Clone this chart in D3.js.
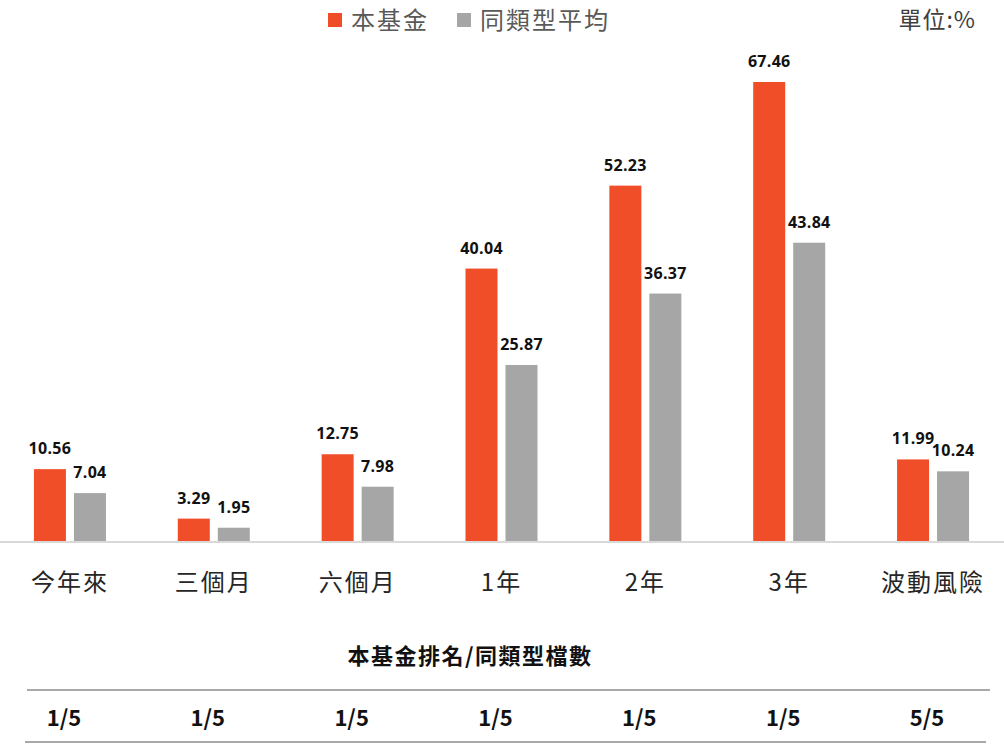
<!DOCTYPE html>
<html><head><meta charset="utf-8">
<script src="https://cdn.jsdelivr.net/npm/d3@7"></script>
<style>
html,body{margin:0;padding:0;background:#fff;}
svg{display:block;}
</style></head>
<body>
<svg id="chart" width="1004" height="746"></svg>
<script>
const categories = ["今年來","三個月","六個月","1年","2年","3年","波動風險"];
const fundValues = [10.56, 3.29, 12.75, 40.04, 52.23, 67.46, 11.99];
const peerValues = [7.04, 1.95, 7.98, 25.87, 36.37, 43.84, 10.24];
const ranks = ["1/5","1/5","1/5","1/5","1/5","1/5","5/5"];
const seriesNames = ["本基金","同類型平均"];
const colors = ["#f04e28","#a6a6a6"];

const svg = d3.select("#chart");
const cjk = "'Noto Sans CJK TC','Noto Sans CJK SC',sans-serif";
const num = "'Open Sans',sans-serif";

const x = d3.scaleBand().domain(categories).range([-2, 1005]).paddingInner(0).paddingOuter(0);
const y = d3.scaleLinear().domain([0, 80]).range([541, 541 - 80 * 6.804]);
const inner = d3.scaleBand().domain([0,1]).range([-36, 36]).paddingInner(0.2).paddingOuter(0);

const data = categories.map((c,i)=>({cat:c, vals:[fundValues[i], peerValues[i]], rank:ranks[i]}));

const g = svg.append("g");
const groups = g.selectAll("g.cat").data(data).join("g")
  .attr("transform", d => `translate(${x(d.cat) + x.bandwidth()/2},0)`);

groups.selectAll("rect").data(d => d.vals.map((v,k)=>({v,k}))).join("rect")
  .attr("x", d => inner(d.k))
  .attr("width", inner.bandwidth())
  .attr("y", d => y(d.v))
  .attr("height", d => y(0) - y(d.v))
  .attr("fill", d => colors[d.k]);

groups.selectAll("text.val").data(d => d.vals.map((v,k)=>({v,k}))).join("text")
  .attr("class","val")
  .attr("x", d => inner(d.k) + inner.bandwidth()/2)
  .attr("y", d => y(d.v) - 15)
  .attr("text-anchor","middle")
  .attr("font-family", num)
  .attr("font-weight","bold")
  .attr("font-size","16px")
  .attr("letter-spacing","0.3px")
  .attr("fill","#111")
  .text(d => d.v.toFixed(2));

// axis baseline
const xAxis = d3.axisBottom(x).tickSize(0).tickPadding(0);
const ax = svg.append("g").attr("transform", `translate(0,${y(0)})`).call(xAxis);
ax.select(".domain").attr("stroke","#d9d9d9").attr("stroke-width",2).attr("d","M0,1H1004");
ax.selectAll(".tick text")
  .attr("y", 33)
  .attr("font-family", cjk)
  .attr("font-size","24px")
  .attr("letter-spacing","2px")
  .attr("fill","#262626");

// legend
const legend = svg.append("g");
const legX = [328, 457];
seriesNames.forEach((n,k)=>{
  legend.append("rect").attr("x", legX[k]).attr("y", 13).attr("width", 14).attr("height", 14).attr("fill", colors[k]);
  legend.append("text").attr("x", legX[k] + 23).attr("y", 29)
    .attr("font-family", cjk).attr("font-size","24px").attr("letter-spacing","2px")
    .attr("fill","#595959").text(n);
});
svg.append("text").attr("x", 976).attr("y", 28).attr("text-anchor","end")
  .attr("font-family", cjk).attr("font-size","23px").attr("letter-spacing","1px").attr("fill","#404040").text("單位:%");

// rank table
svg.append("text").attr("x", 470).attr("y", 664).attr("text-anchor","middle")
  .attr("font-family", cjk).attr("font-weight","bold").attr("font-size","22px").attr("letter-spacing","1.5px")
  .attr("fill","#111")
  .text("本基金排名/同類型檔數");
svg.append("line").attr("x1",27).attr("x2",990).attr("y1",690).attr("y2",690).attr("stroke","#a9a9a9").attr("stroke-width",2);
svg.append("line").attr("x1",25).attr("x2",986).attr("y1",742).attr("y2",742).attr("stroke","#a9a9a9").attr("stroke-width",2);
svg.selectAll("text.rank").data(data).join("text").attr("class","rank")
  .attr("x", d => x(d.cat) + x.bandwidth()/2 - 6)
  .attr("y", 726)
  .attr("text-anchor","middle")
  .attr("font-family", cjk).attr("font-weight","bold").attr("font-size","22px").attr("fill","#111")
  .text(d => d.rank);
</script>
</body></html>
